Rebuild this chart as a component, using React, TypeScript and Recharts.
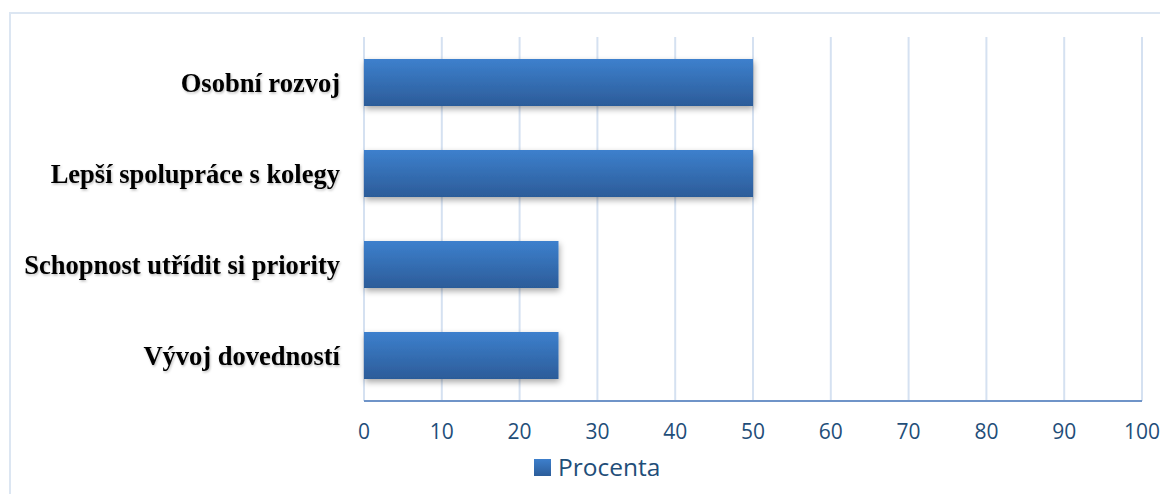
import { Bar, BarChart, CartesianGrid, Legend, XAxis, YAxis } from "recharts"

const categories = ["Osobní rozvoj", "Lepší spolupráce s kolegy", "Schopnost utřídit si priority", "Vývoj dovedností"]
const procenta = [50, 50, 25, 25]
const xTicks = [0, 10, 20, 30, 40, 50, 60, 70, 80, 90, 100]

const data = categories.map((name, i) => ({ name, procenta: procenta[i] }))

const CategoryTick = (props: any) => {
  const { x, y, payload } = props
  return (
    <text
      x={x - 16}
      y={y}
      dy={9}
      textAnchor="end"
      fontFamily="'Liberation Serif', 'DejaVu Serif', serif"
      fontWeight="bold"
      fontSize={26.5}
      fill="#000000"
      filter="url(#textShadow)"
    >
      {payload.value}
    </text>
  )
}

const LegendContent = () => (
  <div style={{ display: "flex", alignItems: "center", fontFamily: "'Open Sans', sans-serif" }}>
    <div
      style={{
        width: 17,
        height: 17,
        background: "linear-gradient(#3d7fcc, #2c5d9a)",
        marginRight: 7,
      }}
    />
    <span style={{ fontSize: 24.5, color: "#1f4e79", lineHeight: "30px" }}>Procenta</span>
  </div>
)

export default function App() {
  return (
    <div style={{ position: "relative", width: 1168, height: 502, margin: -8, overflow: "hidden", background: "#fff" }}>
      <div
        style={{
          position: "absolute",
          left: 9,
          top: 12,
          width: 1180,
          height: 520,
          border: "2px solid #dce6f2",
        }}
      />
      <BarChart
        layout="vertical"
        width={1168}
        height={502}
        data={data}
        margin={{ top: 37, right: 26, bottom: 51, left: 0 }}
        barSize={47}
      >
        <defs>
          <linearGradient id="barFill" x1="0" y1="0" x2="0" y2="1">
            <stop offset="0%" stopColor="#3d80cd" />
            <stop offset="100%" stopColor="#2c5c99" />
          </linearGradient>
          <filter id="barShadow" x="-5%" y="-20%" width="110%" height="160%">
            <feDropShadow dx="1" dy="3" stdDeviation="3" floodColor="#000" floodOpacity="0.35" />
          </filter>
          <filter id="textShadow" x="-5%" y="-20%" width="110%" height="150%">
            <feDropShadow dx="1" dy="1.5" stdDeviation="1" floodColor="#000" floodOpacity="0.25" />
          </filter>
        </defs>
        <CartesianGrid horizontal={false} stroke="#d5e1f1" strokeWidth={2} />
        <XAxis
          type="number"
          domain={[0, 100]}
          ticks={xTicks}
          interval={0}
          tickLine={false}
          axisLine={{ stroke: "#6f94c8", strokeWidth: 2 }}
          tick={{ fill: "#1f4e79", fontSize: 21, fontFamily: "'Open Sans', sans-serif" }}
          tickMargin={17}
          height={50}
        />
        <YAxis
          type="category"
          dataKey="name"
          width={364}
          axisLine={false}
          tickLine={false}
          tick={<CategoryTick />}
        />
        <Bar dataKey="procenta" fill="url(#barFill)" filter="url(#barShadow)" isAnimationActive={false} />
        <Legend
          layout="horizontal"
          verticalAlign="middle"
          align="center"
          wrapperStyle={{ left: 534, top: 452, width: 220, height: 30 }}
          content={<LegendContent />}
        />
      </BarChart>
    </div>
  )
}
